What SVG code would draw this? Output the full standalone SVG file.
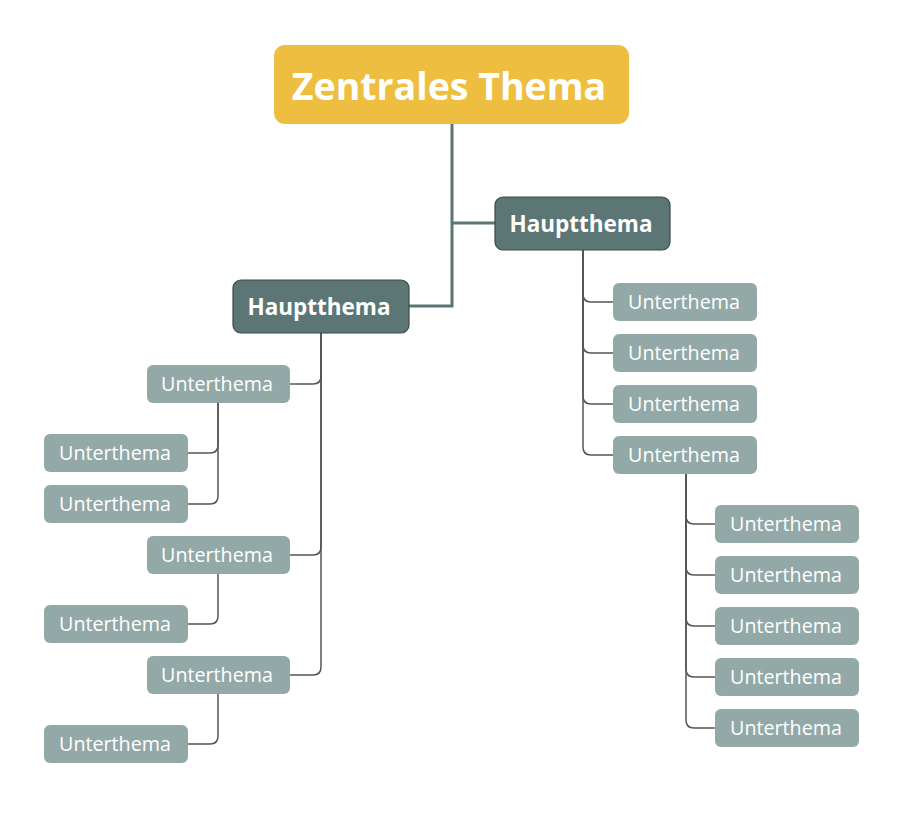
<svg xmlns="http://www.w3.org/2000/svg" width="904" height="823" viewBox="0 0 904 823">
<style>
.main{fill:#EDBE3F}
.main-t{font-family:"Open Sans","Noto Sans",sans-serif;font-weight:bold;font-size:37.5px;fill:#fff;text-anchor:middle}
.hb{fill:#5B7675;stroke:#3c4848;stroke-width:1.2}
.hb-t{font-family:"Open Sans","Noto Sans",sans-serif;font-weight:bold;font-size:22.5px;fill:#fff;text-anchor:middle}
.ub{fill:#93A9A8}
.ub-t{font-family:"Open Sans","Noto Sans",sans-serif;font-size:19.7px;fill:#fff;text-anchor:middle}
.c1{fill:none;stroke:#5B7675;stroke-width:3}
.c2{fill:none;stroke:#555;stroke-width:1.5}
</style>
<rect width="904" height="823" fill="#fff"/>
<g id="connectors">
<path class="c1" d="M452 124 V306 H409"/>
<path class="c1" d="M452 223 H495"/>
<path class="c2" d="M583 250 V294 Q583 302 591 302 H613"/>
<path class="c2" d="M583 250 V345 Q583 353 591 353 H613"/>
<path class="c2" d="M583 250 V396 Q583 404 591 404 H613"/>
<path class="c2" d="M583 250 V447 Q583 455 591 455 H613"/>
<path class="c2" d="M686 474 V516 Q686 524 694 524 H715"/>
<path class="c2" d="M686 474 V567 Q686 575 694 575 H715"/>
<path class="c2" d="M686 474 V618 Q686 626 694 626 H715"/>
<path class="c2" d="M686 474 V669 Q686 677 694 677 H715"/>
<path class="c2" d="M686 474 V720 Q686 728 694 728 H715"/>
<path class="c2" d="M321 333 V376 Q321 384 313 384 H290"/>
<path class="c2" d="M321 333 V547 Q321 555 313 555 H290"/>
<path class="c2" d="M321 333 V667 Q321 675 313 675 H290"/>
<path class="c2" d="M218 403 V445 Q218 453 210 453 H188"/>
<path class="c2" d="M218 403 V496 Q218 504 210 504 H188"/>
<path class="c2" d="M218 574 V616 Q218 624 210 624 H188"/>
<path class="c2" d="M218 694 V736 Q218 744 210 744 H188"/>
</g>
<g id="central"><rect class="main" x="274" y="45" width="355" height="79" rx="11"/><text class="main-t" x="449" y="100">Zentrales Thema</text></g>
<g id="haupt-right"><rect class="hb" x="495" y="197" width="175" height="53" rx="8"/><text class="hb-t" x="581" y="232">Hauptthema</text></g>
<g id="haupt-left"><rect class="hb" x="233" y="280" width="176" height="53" rx="8"/><text class="hb-t" x="319" y="315">Hauptthema</text></g>
<g id="r1"><rect class="ub" x="613" y="283" width="144" height="38" rx="6"/><text class="ub-t" x="684" y="309">Unterthema</text></g>
<g id="r2"><rect class="ub" x="613" y="334" width="144" height="38" rx="6"/><text class="ub-t" x="684" y="360">Unterthema</text></g>
<g id="r3"><rect class="ub" x="613" y="385" width="144" height="38" rx="6"/><text class="ub-t" x="684" y="411">Unterthema</text></g>
<g id="r4"><rect class="ub" x="613" y="436" width="144" height="38" rx="6"/><text class="ub-t" x="684" y="462">Unterthema</text></g>
<g id="r4a"><rect class="ub" x="715" y="505" width="144" height="38" rx="6"/><text class="ub-t" x="786" y="531">Unterthema</text></g>
<g id="r4b"><rect class="ub" x="715" y="556" width="144" height="38" rx="6"/><text class="ub-t" x="786" y="582">Unterthema</text></g>
<g id="r4c"><rect class="ub" x="715" y="607" width="144" height="38" rx="6"/><text class="ub-t" x="786" y="633">Unterthema</text></g>
<g id="r4d"><rect class="ub" x="715" y="658" width="144" height="38" rx="6"/><text class="ub-t" x="786" y="684">Unterthema</text></g>
<g id="r4e"><rect class="ub" x="715" y="709" width="144" height="38" rx="6"/><text class="ub-t" x="786" y="735">Unterthema</text></g>
<g id="l1"><rect class="ub" x="147" y="365" width="143" height="38" rx="6"/><text class="ub-t" x="217" y="391">Unterthema</text></g>
<g id="l1a"><rect class="ub" x="44" y="434" width="144" height="38" rx="6"/><text class="ub-t" x="115" y="460">Unterthema</text></g>
<g id="l1b"><rect class="ub" x="44" y="485" width="144" height="38" rx="6"/><text class="ub-t" x="115" y="511">Unterthema</text></g>
<g id="l2"><rect class="ub" x="147" y="536" width="143" height="38" rx="6"/><text class="ub-t" x="217" y="562">Unterthema</text></g>
<g id="l2a"><rect class="ub" x="44" y="605" width="144" height="38" rx="6"/><text class="ub-t" x="115" y="631">Unterthema</text></g>
<g id="l3"><rect class="ub" x="147" y="656" width="143" height="38" rx="6"/><text class="ub-t" x="217" y="682">Unterthema</text></g>
<g id="l3a"><rect class="ub" x="44" y="725" width="144" height="38" rx="6"/><text class="ub-t" x="115" y="751">Unterthema</text></g>
</svg>
